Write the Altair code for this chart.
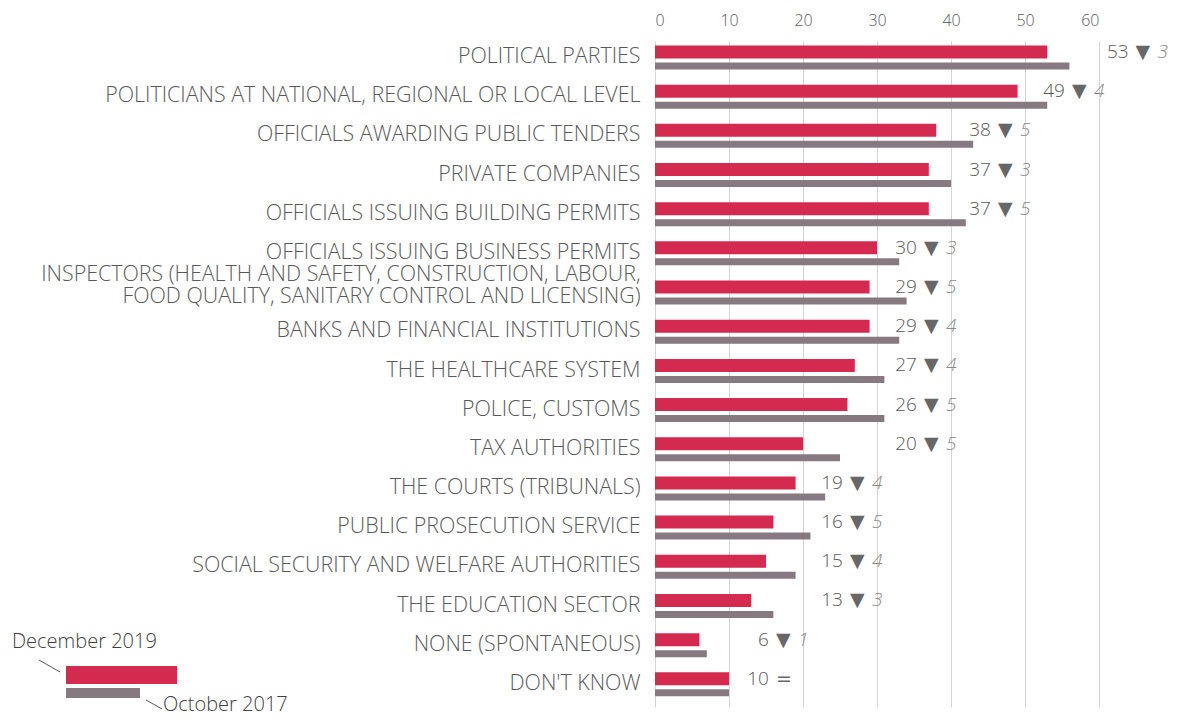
import altair as alt
import pandas as pd

categories = [
    "POLITICAL PARTIES",
    "POLITICIANS AT NATIONAL, REGIONAL OR LOCAL LEVEL",
    "OFFICIALS AWARDING PUBLIC TENDERS",
    "PRIVATE COMPANIES",
    "OFFICIALS ISSUING BUILDING PERMITS",
    "OFFICIALS ISSUING BUSINESS PERMITS",
    "INSPECTORS (HEALTH AND SAFETY, CONSTRUCTION, LABOUR,\nFOOD QUALITY, SANITARY CONTROL AND LICENSING)",
    "BANKS AND FINANCIAL INSTITUTIONS",
    "THE HEALTHCARE SYSTEM",
    "POLICE, CUSTOMS",
    "TAX AUTHORITIES",
    "THE COURTS (TRIBUNALS)",
    "PUBLIC PROSECUTION SERVICE",
    "SOCIAL SECURITY AND WELFARE AUTHORITIES",
    "THE EDUCATION SECTOR",
    "NONE (SPONTANEOUS)",
    "DON'T KNOW",
]
dec_2019 = [53, 49, 38, 37, 37, 30, 29, 29, 27, 26, 20, 19, 16, 15, 13, 6, 10]
oct_2017 = [56, 53, 43, 40, 42, 33, 34, 33, 31, 31, 25, 23, 21, 19, 16, 7, 10]
change = [3, 4, 5, 3, 5, 3, 5, 4, 4, 5, 5, 4, 5, 4, 3, 1, 0]
series = ["December 2019", "October 2017"]
x_ticks = [0, 10, 20, 30, 40, 50, 60]

RED = "#d42a50"
GREY = "#867a80"
TXT = "#595959"
FONT = "Open Sans"

df = pd.DataFrame({"category": categories, "dec": dec_2019, "oct": oct_2017, "chg": change})

xscale = alt.Scale(domain=[0, 60], nice=False, zero=True)
yscale = alt.Scale(paddingInner=0, paddingOuter=0)

y_axis = alt.Axis(
    title=None, domain=False, ticks=False, labelPadding=15, labelColor=TXT,
    labelFontSize=21.4, labelFont=FONT, labelFontWeight=300, labelLimit=0,
    labelOffset={"condition": {"test": "indexof(datum.value, '\\n') >= 0", "value": -20.5},
                 "value": -3.5},
    labelLineHeight=22, labelExpr="split(datum.label, '\\n')",
)
x_axis = alt.Axis(
    orient="top", values=x_ticks, title=None, grid=True, gridColor="#d4d4d4",
    ticks=False, domain=False, labelColor=TXT, labelFontSize=16, labelFont=FONT,
    labelFontWeight=300, labelPadding=13,
)


def X(field):
    return alt.X(field, scale=xscale, axis=x_axis)


Y = alt.Y("category:N", sort=categories, scale=yscale, axis=y_axis)

base = alt.Chart(df)

red = base.mark_bar(size=13, yOffset=-8.6, color=RED).encode(x=X("dec:Q"), y=Y)
grey = base.mark_bar(size=7, yOffset=5.4, color=GREY).encode(x=X("oct:Q"), y=Y)

# value labels sit in columns just right of the gridline nearest the 2017 bar end
lab = base.transform_calculate(lx="min(round(datum.oct / 10) * 10 + 5.4, 64)")
num = lab.mark_text(align="right", baseline="middle", yOffset=-8.6, font=FONT,
                    fontSize=19, fontWeight=300, color=TXT).encode(
    x=X("lx:Q"), y=Y, text="dec:Q")
sym = lab.transform_calculate(sym="datum.chg > 0 ? '▼' : '='").mark_text(
    align="left", baseline="middle", yOffset=-8.6, dx=7, font="DejaVu Sans",
    fontSize=19, color="#676767").encode(x=X("lx:Q"), y=Y, text="sym:N")
chg = lab.transform_filter("datum.chg > 0").mark_text(
    align="left", baseline="middle", yOffset=-8.6, dx=29, font=FONT,
    fontSize=19, fontWeight=300, fontStyle="italic", color="#8a8a8a").encode(
    x=X("lx:Q"), y=Y, text="chg:Q")

# custom legend (decoration)
leg = alt.Chart(pd.DataFrame({"s": series}))
first = alt.datum.s == series[0]
second = alt.datum.s == series[1]
leg_dec_text = leg.transform_filter(first).mark_text(
    align="left", baseline="middle", font=FONT, fontSize=20, fontWeight=300,
    color="#404040").encode(x=alt.value(-643), y=alt.value(601), text="s:N")
leg_dec_line = leg.transform_filter(first).mark_rule(
    color="#595959", strokeWidth=1).encode(
    x=alt.value(-616), y=alt.value(619), x2=alt.value(-595), y2=alt.value(631))
leg_dec_bar = leg.transform_filter(first).mark_rect(color=RED).encode(
    x=alt.value(-589), x2=alt.value(-478), y=alt.value(625), y2=alt.value(643))
leg_oct_bar = leg.transform_filter(second).mark_rect(color=GREY).encode(
    x=alt.value(-589), x2=alt.value(-515), y=alt.value(647), y2=alt.value(657))
leg_oct_line = leg.transform_filter(second).mark_rule(
    color="#595959", strokeWidth=1).encode(
    x=alt.value(-509), y=alt.value(659), x2=alt.value(-493), y2=alt.value(668))
leg_oct_text = leg.transform_filter(second).mark_text(
    align="left", baseline="middle", font=FONT, fontSize=20, fontWeight=300,
    color="#404040").encode(x=alt.value(-492), y=alt.value(664), text="s:N")

chart = alt.layer(
    red, grey, num, sym, chg,
    leg_dec_text, leg_dec_line, leg_dec_bar, leg_oct_bar, leg_oct_line, leg_oct_text,
).properties(
    width=444, height=666,
    padding={"left": 647, "top": 33, "right": 74, "bottom": 10},
    autosize=alt.AutoSizeParams(type="none"),
    background="white",
).configure_view(stroke=None)

chart.save("out.html", embed_options={"renderer": "svg", "actions": False})
